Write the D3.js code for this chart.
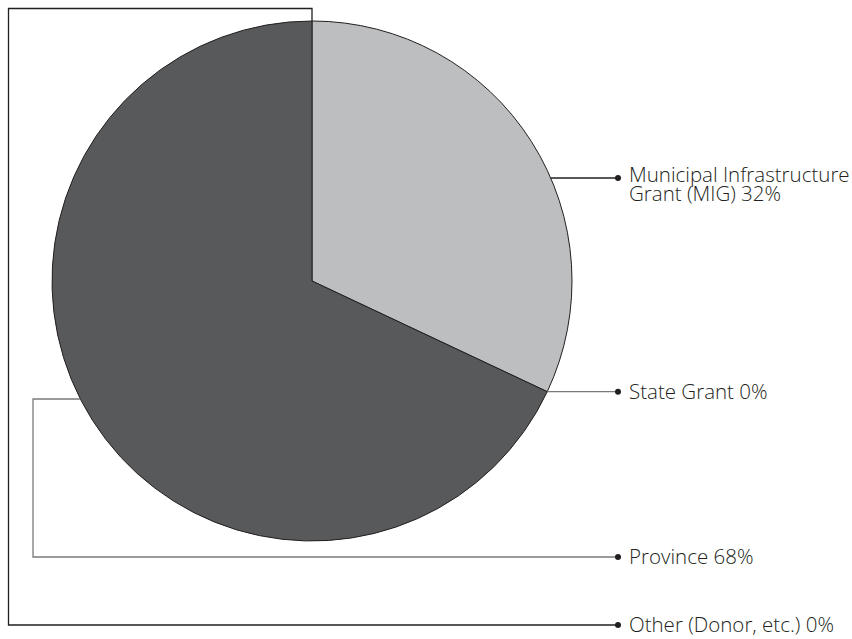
<!DOCTYPE html>
<html>
<meta charset="utf-8">
<style>

body {
  margin: 0;
  background: #fff;
}

.slice {
  stroke: #231f20;
  stroke-width: 1px;
}

.leader {
  fill: none;
  stroke-width: 1.3px;
}

.label {
  font: 300 20.5px "Open Sans", sans-serif;
  fill: #231f20;
}

</style>
<body>
<script src="https://d3js.org/d3.v7.min.js"></script>
<script>

var labels = ["Municipal Infrastructure Grant (MIG)", "State Grant", "Province", "Other (Donor, etc.)"],
    values = [32, 0, 68, 0],
    colors = ["#bcbec0", "#bcbec0", "#58595b", "#58595b"],
    leaderColors = ["#231f20", "#7a7a7a", "#7a7a7a", "#231f20"];

var width = 852,
    height = 639,
    cx = 312,
    cy = 281,
    radius = 260;

var svg = d3.select("body").append("svg")
    .attr("width", width)
    .attr("height", height);

var pie = d3.pie().sort(null).value(function(d) { return d; });

var arc = d3.arc().innerRadius(0).outerRadius(radius);

var arcs = pie(values);

var g = svg.append("g")
    .attr("transform", "translate(" + cx + "," + cy + ")");

g.selectAll("path")
    .data(arcs.filter(function(d) { return d.value > 0; }))
  .enter().append("path")
    .attr("class", "slice")
    .attr("fill", function(d) { return colors[d.index]; })
    .attr("d", arc);

// label rows on the right, in page coords
var dotX = 618,
    textX = 629,
    rowY = [178, 390, 557, 625];

function edgeX(y, side) {
  var dy = y - cy;
  return cx + side * Math.sqrt(radius * radius - dy * dy);
}

function leader(d, i) {
  var a = d.startAngle,
      p;
  if (i === 0) {
    var x0 = edgeX(rowY[0], 1);
    return [[x0, rowY[0]], [dotX, rowY[0]]];
  }
  if (i === 1) {
    p = [cx + radius * Math.sin(a), cy - radius * Math.cos(a)];
    return [p, [dotX, p[1]]];
  }
  if (i === 2) {
    var y0 = 399, x0b = edgeX(y0, -1);
    return [[x0b, y0], [33, y0], [33, rowY[2]], [dotX, rowY[2]]];
  }
  p = [cx + radius * Math.sin(a), cy - radius * Math.cos(a)];
  return [p, [p[0], 8.5], [8.5, 8.5], [8.5, rowY[3]], [dotX, rowY[3]]];
}

var line = d3.line();

var rows = svg.selectAll(".row")
    .data(arcs)
  .enter().append("g")
    .attr("class", "row");

rows.append("path")
    .attr("class", "leader")
    .attr("stroke", function(d, i) { return leaderColors[i]; })
    .attr("d", function(d, i) { return line(leader(d, i)); });

rows.append("circle")
    .attr("cx", dotX)
    .attr("cy", function(d, i) { return leader(d, i).slice(-1)[0][1]; })
    .attr("r", 3)
    .attr("fill", "#231f20");

var text = rows.append("text")
    .attr("class", "label")
    .attr("x", textX)
    .attr("y", function(d, i) { return leader(d, i).slice(-1)[0][1] + 7; });

text.each(function(d, i) {
  var t = d3.select(this);
  if (i === 0) {
    t.attr("y", rowY[0] + 4);
    t.append("tspan").attr("x", textX).text("Municipal Infrastructure");
    t.append("tspan").attr("x", textX).attr("dy", 19).text("Grant (MIG) " + d.value + "%");
  } else {
    t.text(labels[i] + " " + d.value + "%");
  }
});

</script>
</body>
</html>
